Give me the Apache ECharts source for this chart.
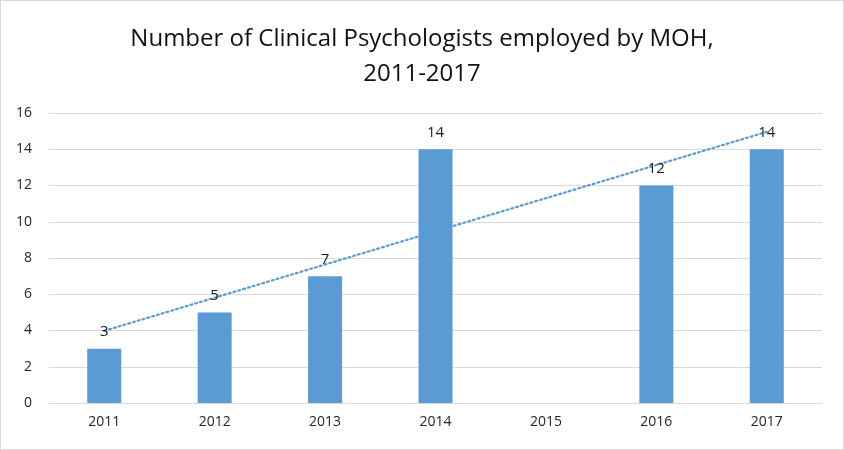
<!DOCTYPE html>
<html>
<head>
<meta charset="utf-8">
<script src="https://cdn.jsdelivr.net/npm/echarts@6/dist/echarts.min.js"></script>
<style>
html,body{margin:0;padding:0;background:#fff;}
#c{position:absolute;left:0;top:0;width:842px;height:448px;border:1px solid #d9d9d9;}
</style>
</head>
<body>
<div id="c"></div>
<script>
const categories = ['2011','2012','2013','2014','2015','2016','2017'];
const values = [3, 5, 7, 14, null, 12, 14];
const trendStart = 3.98;  // trendline value read at 2011
const trendEnd = 14.96;   // trendline value read at 2017
const yTicks = [0, 16, 2]; // min, max, interval

const trendData = categories.map((c, i) => i === 0 ? trendStart : (i === categories.length - 1 ? trendEnd : null));

const chart = echarts.init(document.getElementById('c'), null, {renderer: 'canvas'});
chart.setOption({
  animation: false,
  title: {
    text: 'Number of Clinical Psychologists employed by MOH,\n2011-2017',
    left: 'center',
    top: 16,
    textStyle: {
      fontFamily: 'Open Sans',
      fontSize: 24,
      fontWeight: 'normal',
      color: '#111',
      lineHeight: 35
    }
  },
  grid: {left: 48, right: 21, top: 112, bottom: 46},
  xAxis: {
    type: 'category',
    data: categories,
    axisLine: {lineStyle: {color: '#d9d9d9', width: 1}},
    axisTick: {show: false},
    axisLabel: {color: '#262626', fontFamily: 'Open Sans', fontSize: 14, margin: 12}
  },
  yAxis: {
    type: 'value',
    min: yTicks[0], max: yTicks[1], interval: yTicks[2],
    axisLine: {show: false},
    axisTick: {show: false},
    splitLine: {lineStyle: {color: '#d9d9d9', width: 1}},
    axisLabel: {color: '#262626', fontFamily: 'Open Sans', fontSize: 14, margin: 17, align: 'right'}
  },
  series: [
    {
      type: 'line',
      data: trendData,
      connectNulls: true,
      symbol: 'none',
      z: 1,
      lineStyle: {color: '#5B9BD5', width: 2.2, type: [2, 3], cap: 'round'},
      silent: true
    },
    {
      type: 'bar',
      data: values,
      barWidth: 34,
      z: 2,
      itemStyle: {color: '#5B9BD5'},
      label: {
        show: true,
        position: 'top',
        distance: 9,
        color: '#1a1a1a',
        fontFamily: 'Open Sans',
        fontSize: 15
      }
    }
  ]
});
</script>
</body>
</html>
